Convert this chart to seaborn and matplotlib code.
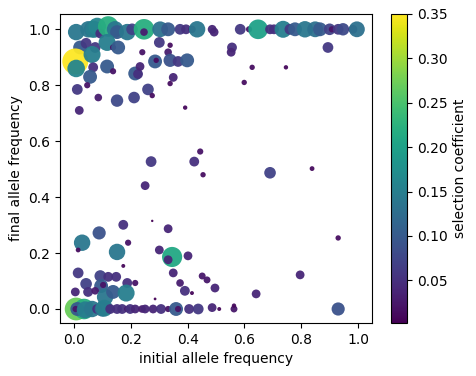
import numpy as np
import pandas as pd
import seaborn as sns
import matplotlib
matplotlib.use("Agg")
import matplotlib.pyplot as plt

# initial / final allele frequency and selection coefficient of each site
init_freq = [
    0.007, 0.063, 0.05, 0.07, 0.081, 0.092, 0.12, 0.144, 0.151, 0.187, 0.204, 0.246, 0.246,
    0.303, 0.331, 0.373, 0.394, 0.415, 0.433, 0.486, 0.493, 0.585, 0.616, 0.648, 0.69,
    0.704, 0.736, 0.76, 0.778, 0.813, 0.849, 0.866, 0.90, 0.908, 0.93, 0.947, 0.982, 0.996,
    0.021, 0.042, 0.074, 0.116, 0.137, 0.155, 0.24, 0.3, 0.338, 0.331, 0.556, 0.553, 0.894,
    0.004, 0.063, 0.007, 0.067, 0.056, 0.116, 0.137, 0.215, 0.225, 0.232, 0.285, 0.289,
    0.338, 0.366, 0.398, 0.349, 0.338, 0.627, 0.746, 0.599, 0.011, 0.046, 0.085, 0.151,
    0.211, 0.26, 0.275, 0.018, 0.391,
    0.271, 0.423, 0.444, 0.454, 0.69, 0.838, 0.25, 0.275,
    0.173, 0.331, 0.088, 0.028, 0.014, 0.19, 0.151, 0.3, 0.345, 0.331, 0.401, 0.173, 0.93,
    0.014, 0.092, 0.12, 0.148, 0.349, 0.451, 0.468, 0.796, 0.042, 0.095, 0.102, 0.187,
    0.215, 0.373, 0.39, 0.415, 0.496, 0.641, 0.004, 0.049, 0.074, 0.109, 0.137, 0.183, 0.285,
    0.007, 0.035, 0.011, 0.005, 0.039, 0.063, 0.081, 0.099, 0.106, 0.127, 0.151, 0.169,
    0.187, 0.197, 0.215, 0.239, 0.25, 0.278, 0.306, 0.331, 0.359, 0.366, 0.405, 0.437,
    0.486, 0.511, 0.563, 0.563, 0.93,
]
final_freq = [
    0.99, 1.0, 1.0, 1.0, 1.01, 0.985, 1.01, 1.0, 0.99, 0.99, 1.0, 1.0, 0.99,
    1.0, 1.0, 1.0, 1.0, 1.0, 1.0, 1.0, 0.99, 1.0, 1.0, 1.0, 1.0,
    1.0, 1.0, 1.0, 1.0, 1.0, 1.0, 1.0, 1.0, 1.0, 1.0, 1.0, 1.0, 1.0,
    0.935, 0.95, 0.935, 0.953, 0.935, 0.935, 0.918, 0.953, 0.943, 0.918, 0.935, 0.918, 0.935,
    0.885, 0.91, 0.86, 0.864, 0.83, 0.867, 0.85, 0.842, 0.84, 0.867, 0.885, 0.889,
    0.889, 0.885, 0.889, 0.828, 0.806, 0.864, 0.864, 0.81, 0.785, 0.8, 0.756, 0.745,
    0.756, 0.785, 0.763, 0.71, 0.72,
    0.527, 0.527, 0.563, 0.48, 0.487, 0.502, 0.441, 0.315,
    0.301, 0.287, 0.272, 0.237, 0.211, 0.237, 0.204, 0.211, 0.186, 0.176, 0.19, 0.154, 0.254,
    0.129, 0.118, 0.115, 0.115, 0.129, 0.118, 0.104, 0.122, 0.09, 0.082, 0.086, 0.093,
    0.093, 0.093, 0.065, 0.057, 0.075, 0.054, 0.061, 0.061, 0.065, 0.043, 0.061, 0.057, 0.036,
    0.0, 0.0, 0.0, 0.0, -0.003, 0.0, 0.0, 0.0, 0.003, 0.0, 0.0, 0.0,
    0.0, 0.0, 0.0, 0.0, 0.0, 0.0, 0.0, 0.0, 0.0, 0.0, 0.0, 0.0,
    0.005, 0.0, 0.0, 0.012, 0.0,
]
sel_coef = [
    0.14, 0.14, 0.14, 0.15, 0.16, 0.05, 0.22, 0.14, 0.1, 0.14, 0.07, 0.22, 0.03,
    0.13, 0.1, 0.06, 0.05, 0.03, 0.14, 0.04, 0.04, 0.06, 0.02, 0.2, 0.05,
    0.05, 0.15, 0.06, 0.1, 0.14, 0.13, 0.1, 0.07, 0.02, 0.06, 0.08, 0.04, 0.13,
    0.1, 0.06, 0.06, 0.15, 0.02, 0.1, 0.02, 0.06, 0.015, 0.03, 0.05, 0.04, 0.06,
    0.35, 0.15, 0.16, 0.05, 0.1, 0.1, 0.02, 0.1, 0.05, 0.04, 0.1, 0.015,
    0.09, 0.06, 0.1, 0.04, 0.015, 0.015, 0.01, 0.015, 0.06, 0.02, 0.03, 0.08,
    0.07, 0.07, 0.015, 0.04, 0.01,
    0.06, 0.05, 0.02, 0.015, 0.07, 0.012, 0.04, 0.003,
    0.05, 0.04, 0.09, 0.14, 0.012, 0.02, 0.14, 0.04, 0.21, 0.04, 0.04, 0.008, 0.015,
    0.06, 0.07, 0.05, 0.05, 0.04, 0.025, 0.025, 0.04, 0.07, 0.1, 0.02, 0.05,
    0.02, 0.03, 0.05, 0.008, 0.04, 0.04, 0.04, 0.05, 0.03, 0.14, 0.1, 0.15, 0.004,
    0.27, 0.22, 0.1, 0.02, 0.15, 0.14, 0.05, 0.12, 0.15, 0.05, 0.05, 0.05,
    0.02, 0.05, 0.04, 0.03, 0.04, 0.04, 0.05, 0.02, 0.1, 0.02, 0.05, 0.06,
    0.04, 0.008, 0.025, 0.01, 0.09,
]

df = pd.DataFrame({"init": init_freq, "final": final_freq, "s": sel_coef})

vmin, vmax = 0.002, 0.35
norm = plt.Normalize(vmin, vmax)

fig = plt.figure(figsize=(4.76, 3.76), dpi=100)
ax = fig.add_axes([0.126, 0.141, 0.656, 0.822])
cax = fig.add_axes([0.821, 0.141, 0.034, 0.822])

sns.scatterplot(data=df, x="init", y="final", hue="s", size="s",
                palette="viridis", hue_norm=norm,
                size_norm=(0, 0.35), sizes=(0, 350),
                linewidth=0, alpha=0.95, legend=False, ax=ax)

ax.set_xlim(-0.05, 1.05)
ax.set_ylim(-0.05, 1.055)
ax.set_xlabel("initial allele frequency")
ax.set_ylabel("final allele frequency")

sm = plt.cm.ScalarMappable(cmap="viridis", norm=norm)
cb = fig.colorbar(sm, cax=cax)
cb.set_label("selection coefficient")

fig.savefig("out.png", dpi=100)
